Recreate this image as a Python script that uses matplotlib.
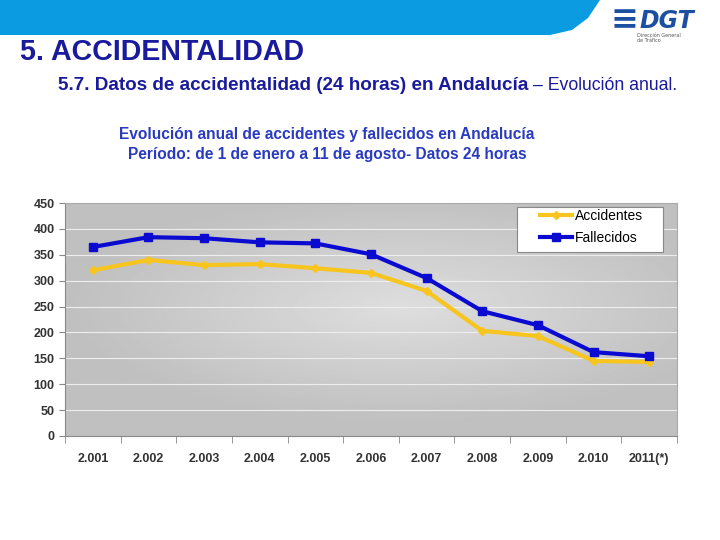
import numpy as np
import matplotlib.pyplot as plt
from matplotlib.patches import Polygon, Rectangle

years = ['2.001', '2.002', '2.003', '2.004', '2.005', '2.006', '2.007',
         '2.008', '2.009', '2.010', '2011(*)']
accidentes = [320, 340, 330, 332, 324, 315, 280, 203, 193, 145, 143]
fallecidos = [365, 384, 382, 374, 372, 351, 305, 241, 214, 162, 154]
yticks = [0, 50, 100, 150, 200, 250, 300, 350, 400, 450]

fig = plt.figure(figsize=(7.2, 5.4), dpi=100)

# blue header band with rounded right end
band = [(0, 1), (0, 1 - 35 / 540), (550 / 720, 1 - 35 / 540),
        (572 / 720, 1 - 30 / 540), (588 / 720, 1 - 18 / 540), (600 / 720, 1)]
fig.patches.append(Polygon(band, closed=True, transform=fig.transFigure,
                           facecolor='#0a9be0', edgecolor='none'))

fig.text(640 / 720, 1 - 21 / 540, 'DGT', fontsize=17, fontweight='bold',
         style='italic', color='#1c4fa0', ha='left', va='center')
fig.text(610 / 720, 1 - 20 / 540, '≡', fontsize=24, fontweight='bold',
         color='#1c4fa0', ha='left', va='center')
fig.text(637 / 720, 1 - 38 / 540, 'Dirección General\nde Tráfico', fontsize=3.5,
         color='#555555', ha='left', va='center', linespacing=1)

fig.text(20 / 720, 1 - 52 / 540, '5. ACCIDENTALIDAD', fontsize=20.6,
         fontweight='bold', color='#1a1a9c', ha='left', va='center',
         family='Liberation Sans')
t1 = fig.text(58 / 720, 1 - 86 / 540, '5.7. Datos de accidentalidad (24 horas) en Andalucía',
              fontsize=13.6, fontweight='bold', color='#1a1a9c', ha='left',
              va='center', family='Liberation Sans')
fig.canvas.draw()
bb = t1.get_window_extent()
fig.text(bb.x1 / 720 + 0.006, 1 - 86 / 540, '– Evolución anual.', fontsize=12.7,
         color='#1a1a9c', ha='left', va='center', family='Liberation Sans')

fig.text(327 / 720, 1 - 135 / 540,
         'Evolución anual de accidentes y fallecidos en Andalucía',
         fontsize=11.2, fontweight='bold', color='#2a3bc0', ha='center',
         va='center', family='Liberation Sans')
fig.text(327 / 720, 1 - 155 / 540,
         'Período: de 1 de enero a 11 de agosto- Datos 24 horas',
         fontsize=11.2, fontweight='bold', color='#2a3bc0', ha='center',
         va='center', family='Liberation Sans')

ax = fig.add_axes([65 / 720, 1 - 436 / 540, 612 / 720, 233 / 540])

# radial grey gradient background
gx, gy = np.meshgrid(np.linspace(-1, 1, 300), np.linspace(-1, 1, 200))
r = np.clip(np.sqrt(((gx - 0.1) / 1.1) ** 2 + ((gy + 0.1) / 1.0) ** 2), 0, 1)
grad = 0.87 - 0.12 * r
ax.imshow(grad, cmap='gray', vmin=0, vmax=1, extent=[0, 1, 0, 1],
          transform=ax.transAxes, aspect='auto', zorder=0)

x = np.arange(len(years))
for yv in yticks[1:-1]:
    ax.axhline(yv, color='#eeeeee', lw=0.8, zorder=1)

ax.plot(x, accidentes, color='#f7c51e', lw=3, marker='D', markersize=4.5,
        label='Accidentes', zorder=3)
ax.plot(x, fallecidos, color='#0a0ad0', lw=3, marker='s', markersize=6,
        label='Fallecidos', zorder=4)

ax.set_xlim(-0.5, len(years) - 0.5)
ax.set_ylim(0, 450)
ax.set_yticks(yticks)
ax.set_xticks(x)
ax.set_xticklabels(years)
ax.set_xticks(np.arange(-0.5, len(years), 1), minor=True)
ax.tick_params(axis='x', which='major', length=0, pad=12)
ax.tick_params(axis='x', which='minor', length=5, direction='out', color='#888888')
ax.tick_params(axis='y', length=4, color='#888888')
for lab in ax.get_xticklabels() + ax.get_yticklabels():
    lab.set_fontweight('bold')
    lab.set_fontsize(9)
    lab.set_color('#333333')
    lab.set_family('Liberation Sans')
for s in ['top', 'right']:
    ax.spines[s].set_color('#aaaaaa')
for s in ['left', 'bottom']:
    ax.spines[s].set_color('#888888')

# legend box drawn separately (wide side padding like the original)
ax.add_patch(Rectangle((452 / 612, 184 / 233), 146 / 612, 45 / 233,
                       transform=ax.transAxes, facecolor='white',
                       edgecolor='#888888', lw=0.8, zorder=5))
leg = ax.legend(loc='upper left', bbox_to_anchor=(475 / 612, 227 / 233),
                borderaxespad=0, borderpad=0, frameon=False,
                prop={'family': 'Liberation Sans', 'size': 10},
                handlelength=2.3, handletextpad=0.2, labelspacing=0.55)
leg.set_zorder(6)

fig.savefig('out.png', dpi=100)
